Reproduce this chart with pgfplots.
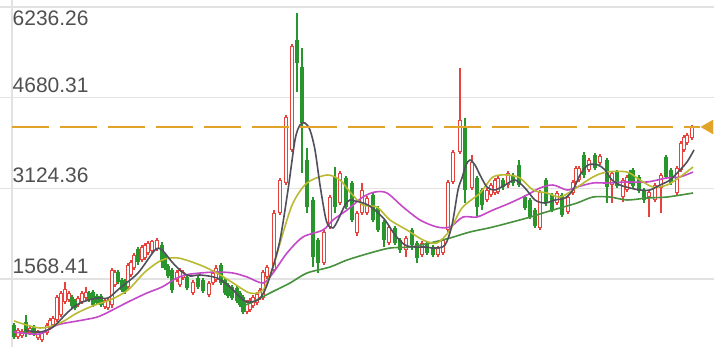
\documentclass[border=0pt]{standalone}
\usepackage{pgfplots}
\pgfplotsset{compat=1.18}
\usepackage{pgfplotstable}
\usepackage{fontspec}
\setmainfont{Liberation Sans}
\definecolor{cRed}{RGB}{232,66,60}
\definecolor{cGreen}{RGB}{40,150,45}
\definecolor{cMA5}{RGB}{80,80,92}
\definecolor{cMA10}{RGB}{185,185,50}
\definecolor{cMA20}{RGB}{196,72,200}
\definecolor{cMA60}{RGB}{70,145,60}
\definecolor{cOrange}{RGB}{226,164,40}
\definecolor{gridgray}{RGB}{226,226,226}
\definecolor{labgray}{RGB}{80,80,80}

\pgfplotstableread{
x o h l c
18 573 727 539 693
22 590 710 556 676
30 642 762 607 727
38 556 693 522 659
42 522 676 487 642
47 642 813 607 779
50 727 899 693 865
53 779 933 745 899
57 865 1294 830 1259
61 951 1362 916 1328
65 1174 1517 1139 1397
69 1208 1362 1174 1328
78 1122 1277 1088 1242
82 1174 1362 1139 1328
86 1242 1431 1208 1345
105 1088 1242 1053 1208
108 1071 1242 1036 1208
112 1122 1757 1071 1723
115 1465 1723 1431 1688
128 1431 1843 1397 1809
131 1637 1894 1603 1860
134 1757 2014 1723 1980
142 1894 2152 1860 2117
145 1929 2186 1894 2152
148 2014 2220 1980 2186
152 2049 2238 2014 2220
157 2083 2272 2049 2238
177 1551 1723 1517 1688
180 1465 1757 1431 1723
183 1586 1723 1551 1688
193 1328 1551 1294 1517
209 1294 1534 1259 1500
213 1500 1723 1465 1671
216 1551 1809 1517 1757
247 1002 1208 968 1174
250 1036 1242 1002 1208
253 1105 1294 1071 1259
257 1156 1345 1122 1311
260 1242 1414 1208 1380
263 1242 1723 1208 1688
267 1603 1809 1568 1774
274 1723 2752 1688 2701
280 2701 3302 2667 3267
286 3216 4383 3181 4348
292 3782 5601 3748 5567
324 1843 2409 1809 2375
330 2461 3010 2426 2975
340 2872 3422 2838 3387
357 2358 2735 2306 2701
362 2701 3216 2667 3096
367 2701 2993 2667 2958
389 2186 2495 2152 2461
406 2066 2306 1946 2272
422 1980 2220 1946 2186
438 1980 2135 1946 2100
443 2014 2272 1980 2238
448 2409 3267 2375 3233
453 3233 3782 3199 3748
460 3748 5189 3713 4297
472 3130 3696 3096 3576
487 2924 3130 2890 3096
491 3010 3216 2975 3181
495 3044 3302 3010 3267
498 3061 3336 3027 3302
508 3181 3422 3130 3387
540 2444 3096 2409 3061
557 2872 3078 2838 3044
568 2718 3010 2684 2975
573 3044 3267 3010 3233
576 3233 3507 3199 3473
579 3267 3507 3233 3473
589 3439 3645 3404 3610
600 3559 3713 3525 3679
612 3181 3422 2872 3387
623 2975 3302 2890 3267
627 3096 3353 3061 3319
649 2975 3096 2632 3061
655 2924 3216 2890 3181
661 3130 3387 2701 3353
677 3044 3507 3010 3473
681 3439 3936 3404 3902
684 3782 4039 3748 4005
687 3902 4074 3868 4039
692 3988 4211 3954 4177
}\redc

\pgfplotstableread{
x o h l c
14 779 813 539 573
26 830 951 573 625
34 745 779 590 625
72 1259 1294 1071 1105
75 1191 1225 1036 1071
89 1328 1362 1174 1208
93 1345 1380 1088 1122
97 1277 1311 1122 1156
101 1277 1311 1088 1122
118 1688 1723 1483 1517
122 1551 1586 1345 1380
125 1534 1568 1311 1345
138 2083 2117 1809 1860
162 2152 2203 1757 1860
165 1963 1997 1723 1757
168 1791 1826 1586 1620
172 1723 1757 1328 1380
187 1603 1637 1380 1414
198 1586 1620 1397 1431
203 1551 1586 1328 1362
221 1809 1843 1465 1500
225 1551 1586 1294 1328
228 1465 1500 1242 1277
232 1431 1465 1208 1242
237 1414 1448 1156 1191
240 1328 1362 1088 1122
243 1259 1294 968 1002
297 5670 6133 4777 5275
302 5206 5532 3387 4245
307 3610 3816 2701 2804
313 2924 2975 1774 1946
318 2238 2272 1671 1843
335 3319 3490 2701 2804
346 3302 3336 2770 2804
352 3216 3250 2546 2581
373 3010 3044 2546 2581
378 2787 2821 2375 2409
384 2546 2581 2117 2238
395 2444 2478 2152 2186
400 2238 2272 2014 2066
412 2409 2444 2066 2152
417 2186 2220 1843 1929
427 2186 2220 1980 2014
433 2117 2152 1946 1980
465 4177 4331 2872 3096
477 3302 3336 2632 2804
482 3096 3130 2752 2838
503 3267 3302 3096 3147
513 3353 3387 3164 3216
519 3525 3610 3147 3181
525 2975 3010 2752 2787
530 2924 2958 2598 2632
535 2752 2787 2444 2478
546 3267 3302 2821 2872
552 3010 3044 2718 2752
562 3010 3044 2632 2667
584 3696 3748 3302 3353
595 3696 3731 3439 3473
607 3610 3645 2872 3147
617 3404 3439 3130 3164
630 3404 3439 3199 3233
633 3439 3473 3130 3164
639 3319 3353 3044 3078
644 3096 3130 2872 2924
666 3662 3696 3284 3319
671 3439 3473 3181 3216
}\greenc

\begin{document}
\begin{tikzpicture}
\begin{axis}[
  at={(0,0)}, anchor=south west,
  width=714bp, height=347bp, scale only axis,
  xmin=0, xmax=714, ymin=401.5, ymax=6356,
  axis line style={draw=none},
  xtick={12}, xticklabels={},
  ytick={1568.41,3124.36,4680.31,6236.26}, yticklabels={},
  major tick length=0pt,
  xmajorgrids, ymajorgrids,
  major grid style={draw=gridgray, line width=1.4bp},
]
% wicks
\addplot[draw=none, mark=none, forget plot, error bars/.cd, y dir=plus, y explicit, error mark=none,
  error bar style={line width=1.4bp, draw=cRed}]
  table[x=x, y=l, y error plus expr=\thisrow{h}-\thisrow{l}] {\redc};
\addplot[draw=none, mark=none, forget plot, error bars/.cd, y dir=plus, y explicit, error mark=none,
  error bar style={line width=1.4bp, draw=cGreen}]
  table[x=x, y=l, y error plus expr=\thisrow{h}-\thisrow{l}] {\greenc};
% bodies
\addplot[draw=none, mark=none, forget plot, error bars/.cd, y dir=plus, y explicit, error mark=none,
  error bar style={line width=4.6bp, draw=cRed}]
  table[x=x, y=o, y error plus expr=\thisrow{c}-\thisrow{o}] {\redc};
\addplot[draw=none, mark=none, forget plot, error bars/.cd, y dir=plus, y explicit, error mark=none,
  error bar style={line width=1.7bp, draw=white}]
  table[x=x, y expr=\thisrow{o}+24, y error plus expr={max(\thisrow{c}-\thisrow{o}-48,0)}] {\redc};
\addplot[draw=none, mark=none, forget plot, error bars/.cd, y dir=plus, y explicit, error mark=none,
  error bar style={line width=3.9bp, draw=cGreen}]
  table[x=x, y=c, y error plus expr=\thisrow{o}-\thisrow{c}] {\greenc};
% moving averages
\addplot[cMA60, line width=1.6bp, smooth, mark=none] coordinates {
(245,1122) (253,1174) (270,1328) (290,1500) (307,1671) (330,1774) (347,1894) (370,2014)
(390,2100) (410,2117) (430,2186) (450,2272) (470,2375) (493,2461) (527,2615) (543,2701)
(560,2787) (577,2872) (593,2975) (610,2975) (627,2924) (647,2958) (667,2975) (693,3044)};
\addplot[cMA20, line width=1.6bp, smooth, mark=none] coordinates {
(14,659) (40,625) (57,779) (83,865) (100,933) (128,1174) (147,1328) (162,1431) (175,1568)
(185,1637) (200,1671) (217,1688) (233,1671) (247,1603) (263,1500) (273,1671) (287,2014)
(303,2289) (323,2409) (333,2581) (347,2752) (363,2975) (375,3061) (387,3044) (403,2804)
(420,2581) (437,2461) (450,2461) (463,2632) (477,2632) (493,2752) (510,2872) (527,3010)
(540,3130) (553,3181) (567,3096) (577,3147) (593,3216) (607,3216) (627,3233) (647,3233)
(667,3302) (680,3319) (693,3404)};
\addplot[cMA10, line width=1.6bp, smooth, mark=none] coordinates {
(14,848) (40,727) (60,813) (77,985) (95,1122) (110,1208) (128,1380) (145,1688) (162,1894)
(178,1929) (200,1809) (217,1671) (233,1500) (250,1328) (263,1380) (273,1774) (283,2358)
(293,2872) (307,3216) (327,3353) (340,3267) (350,3061) (363,2838) (377,2804) (390,2581)
(407,2409) (423,2238) (437,2186) (450,2409) (462,2787) (480,3044) (493,3319) (507,3353)
(520,3302) (533,3096) (547,3044) (560,2975) (573,3096) (593,3319) (607,3404) (627,3404)
(640,3267) (653,3147) (667,3181) (680,3319) (693,3490)};
\addplot[cMA5, line width=1.6bp, smooth, mark=none] coordinates {
(25,693) (40,659) (53,745) (68,1002) (80,1156) (97,1242) (108,1242) (120,1414) (138,1671)
(155,2066) (162,2066) (172,1860) (182,1688) (190,1620) (200,1637) (217,1586) (230,1431)
(240,1259) (247,1174) (258,1208) (265,1380) (272,1723) (280,2238) (288,3096) (295,3954)
(300,4211) (305,4245) (310,4125) (315,3782) (320,3181) (325,2667) (328,2495) (333,2444)
(338,2581) (345,2838) (350,2924) (355,2907) (360,2890) (368,2838) (375,2752) (385,2581)
(395,2323) (405,2152) (415,2117) (425,2117) (435,2100) (445,2152) (452,2495) (458,3096)
(462,3302) (466,3525) (470,3610) (475,3525) (480,3353) (487,3147) (495,3096) (505,3181)
(515,3267) (525,3130) (535,2924) (545,2872) (555,2924) (565,2958) (573,3096) (580,3353)
(588,3525) (598,3525) (605,3439) (612,3267) (620,3181) (630,3130) (640,3096) (650,3096)
(660,3181) (670,3267) (680,3439) (687,3576) (694,3782)};
% reference line and marker
\addplot[cOrange, line width=1.9bp, dash pattern=on 37bp off 11bp, mark=none] coordinates {(12,4177) (700,4177)};
\addplot[only marks, mark=triangle*, mark size=8bp, mark options={rotate=90, fill=cOrange, draw=cOrange}] coordinates {(709,4177)};
% y labels
\begin{scope}[every node/.style={inner sep=0pt, text=labgray, font=\fontsize{21bp}{24bp}\selectfont}]
\node[anchor=base west] at (axis cs:12.5,6236.26) [yshift=-18.5bp] {6236.26};
\node[anchor=base west] at (axis cs:12.5,4680.31) [yshift=5.5bp] {4680.31};
\node[anchor=base west] at (axis cs:12.5,3124.36) [yshift=5.5bp] {3124.36};
\node[anchor=base west] at (axis cs:12.5,1568.41) [yshift=5.5bp] {1568.41};
\end{scope}
\end{axis}
\pgfresetboundingbox
\path[use as bounding box] (0,0) rectangle (714bp,347bp);
\end{tikzpicture}
\end{document}
